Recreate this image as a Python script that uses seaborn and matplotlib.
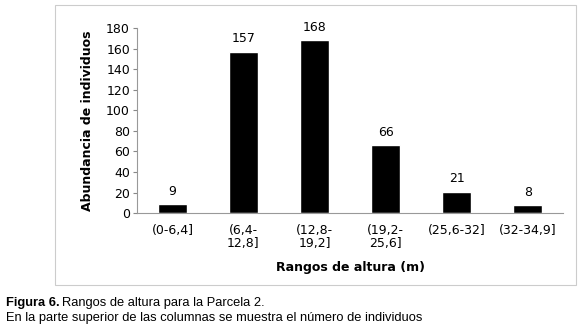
import matplotlib
matplotlib.use("Agg")
import matplotlib.pyplot as plt
import seaborn as sns
import pandas as pd
from matplotlib.patches import Rectangle

# datos de la figura
rangos = ["(0-6,4]", "(6,4-\n12,8]", "(12,8-\n19,2]", "(19,2-\n25,6]", "(25,6-32]", "(32-34,9]"]
abundancia = [9, 157, 168, 66, 21, 8]
yticks = [0, 20, 40, 60, 80, 100, 120, 140, 160, 180]

df = pd.DataFrame({"Rango": rangos, "Abundancia": abundancia})

sns.set_style("white")
plt.rcParams["font.family"] = ["DejaVu Sans"]
plt.rcParams["text.color"] = "black"
plt.rcParams["axes.labelcolor"] = "black"
plt.rcParams["xtick.color"] = "black"
plt.rcParams["ytick.color"] = "black"

fig = plt.figure(figsize=(5.8, 3.33), dpi=100)
ax = fig.add_axes([0.236, 0.360, 0.735, 0.556])

sns.barplot(data=df, x="Rango", y="Abundancia", color="black", width=0.4,
            saturation=1, ax=ax)

ax.set_xlim(-0.5, 5.5)
ax.set_ylim(0, 180)
ax.set_yticks(yticks)
ax.tick_params(axis="y", direction="out", length=3, color="#888888",
               labelsize=9, pad=2, left=True)
ax.tick_params(axis="x", length=0, labelsize=9, pad=8)
for lab in ax.get_xticklabels():
    lab.set_linespacing(0.95)

for s in ["top", "right"]:
    ax.spines[s].set_visible(False)
for s in ["left", "bottom"]:
    ax.spines[s].set_color("#999999")
    ax.spines[s].set_linewidth(0.8)

for i, v in enumerate(abundancia):
    ax.text(i, v + 6, str(v), ha="center", va="bottom", fontsize=9)

ax.set_ylabel("Abundancia de individuos", fontsize=9, fontweight="bold", labelpad=9)
ax.set_xlabel("Rangos de altura (m)", fontsize=9, fontweight="bold", labelpad=8)

# marco del grafico
fig.patches.append(Rectangle((55 / 580, 1 - 285 / 333), 521 / 580, 280 / 333,
                             transform=fig.transFigure, fill=False,
                             edgecolor="#cccccc", linewidth=0.8))

cap = dict(fontsize=9.3, family=["Liberation Sans"], va="center", color="black")
fig.text(6 / 580, 1 - 303 / 333, "Figura 6.", fontweight="bold", **cap)
fig.text(62 / 580, 1 - 303 / 333, "Rangos de altura para la Parcela 2.", **cap)
fig.text(6 / 580, 1 - 318 / 333,
         "En la parte superior de las columnas se muestra el número de individuos", **cap)

fig.savefig("out.png", dpi=100)
